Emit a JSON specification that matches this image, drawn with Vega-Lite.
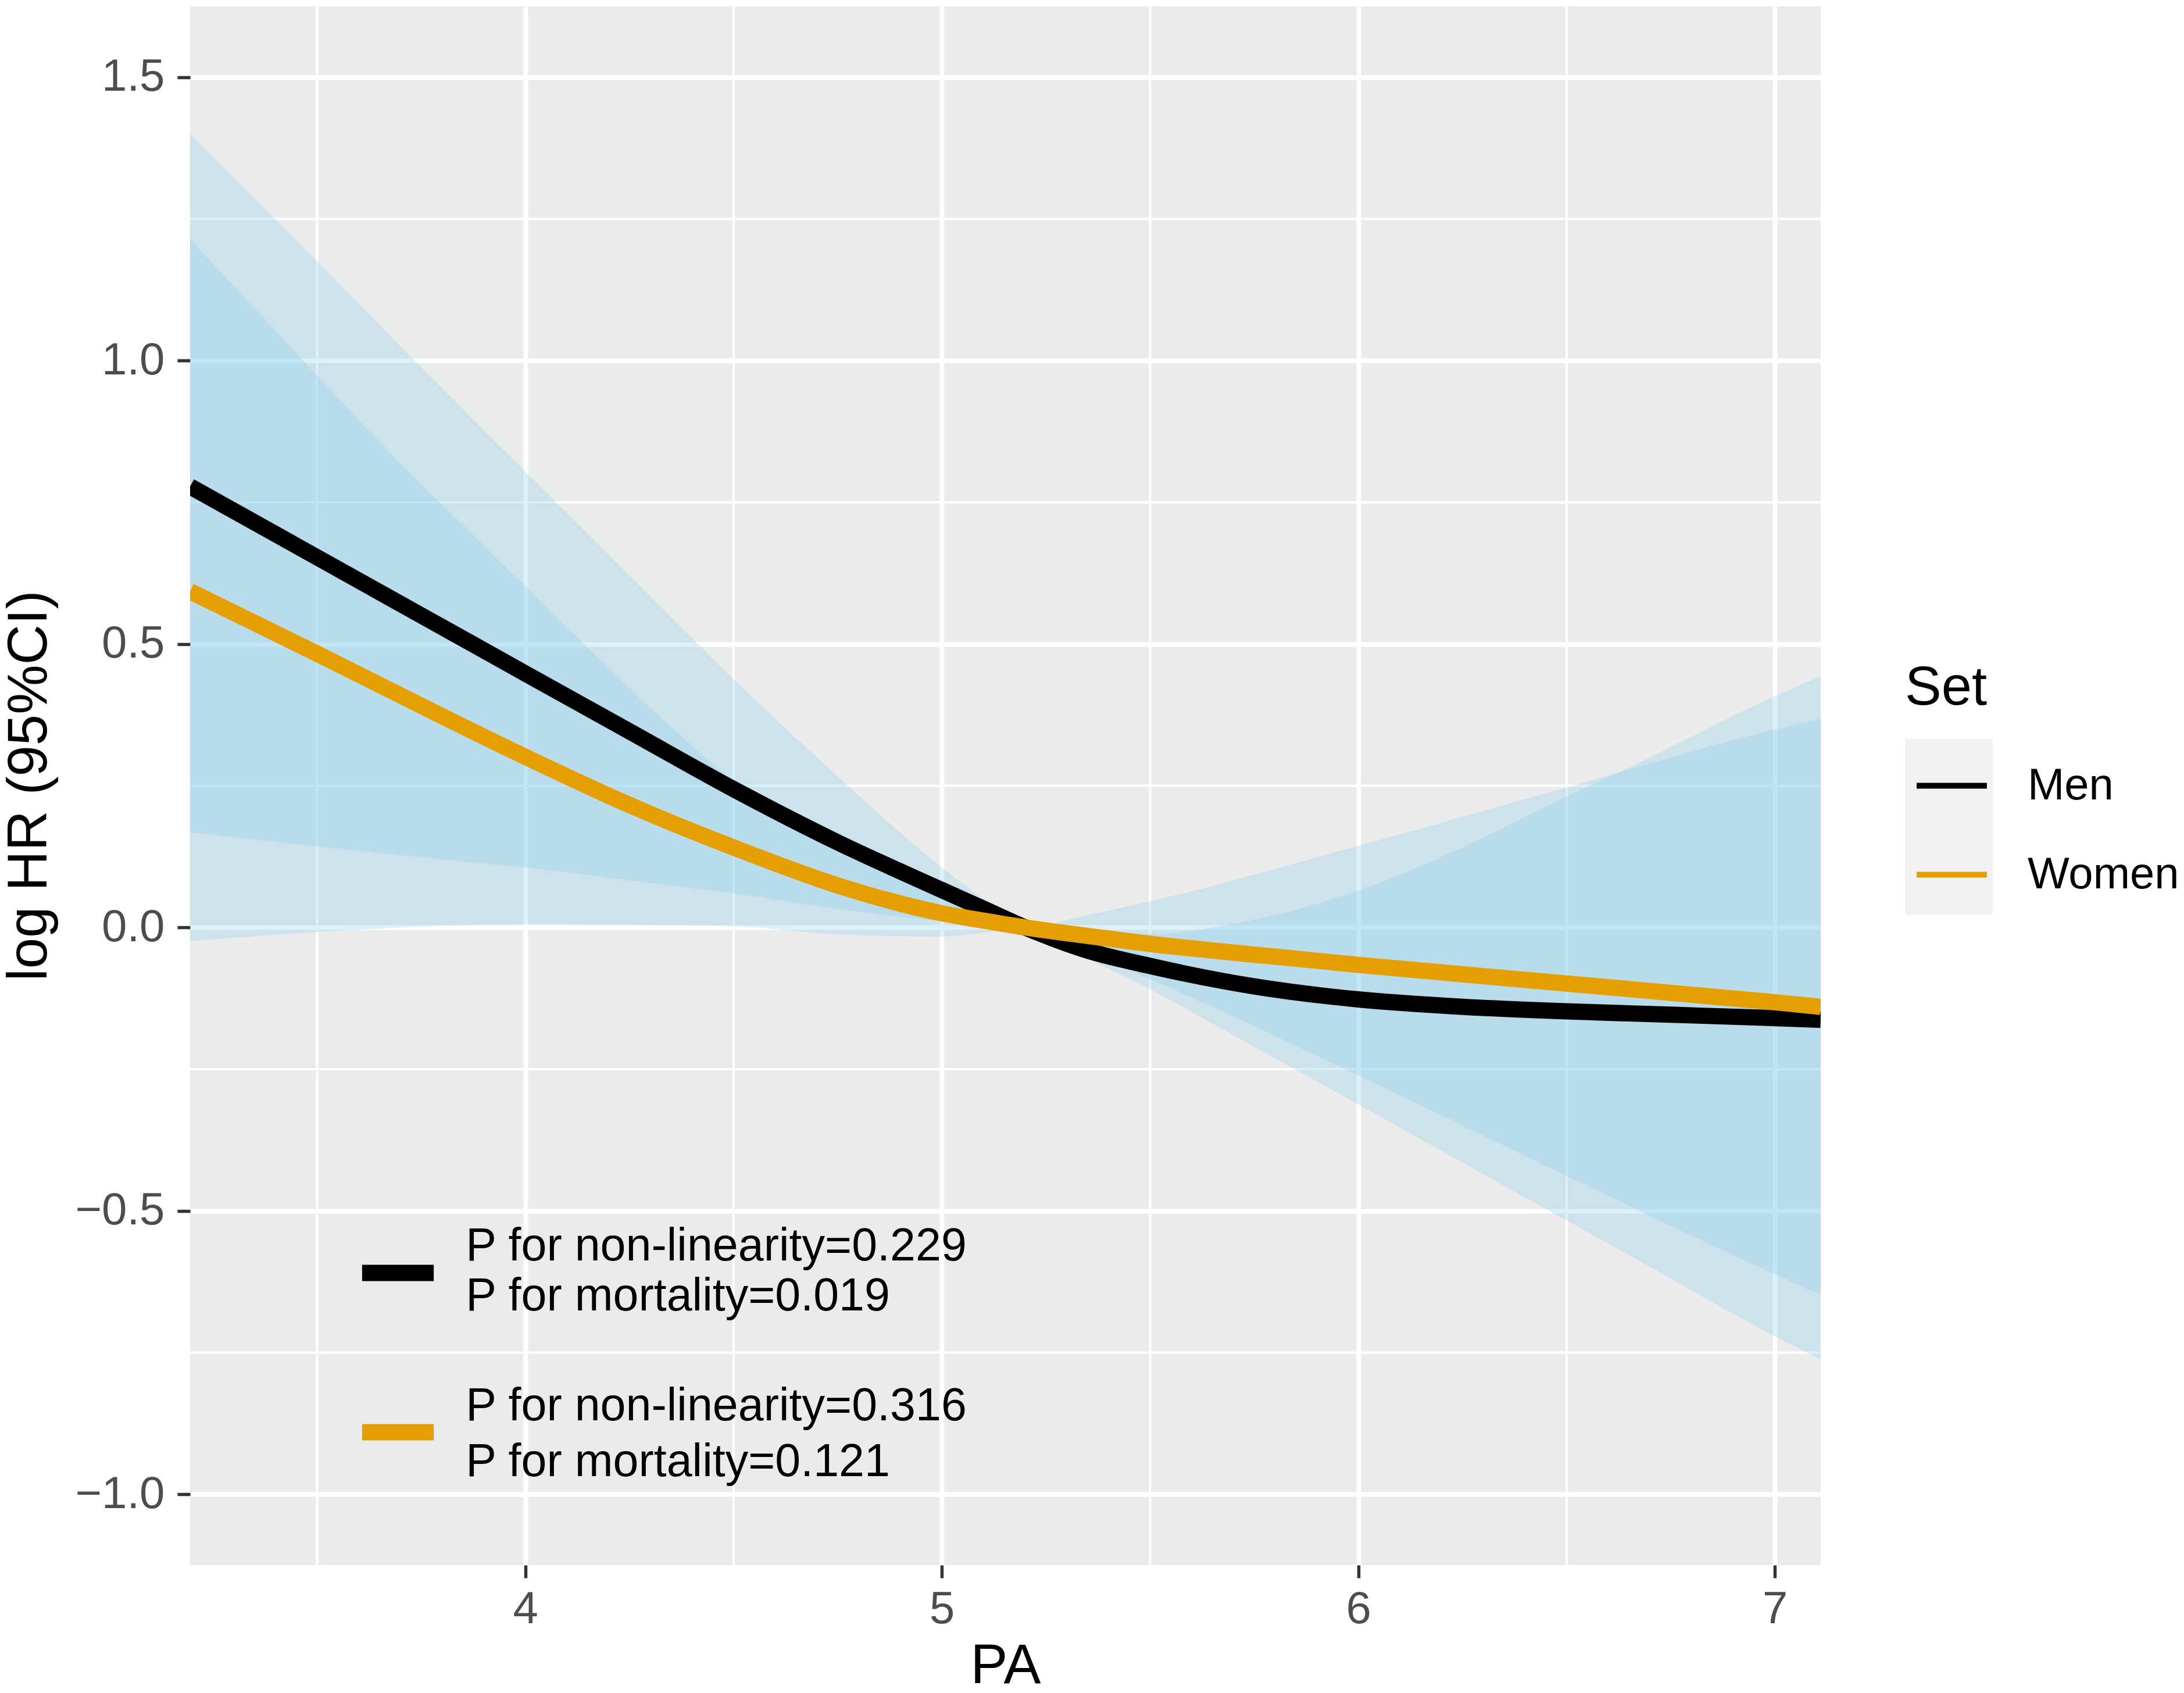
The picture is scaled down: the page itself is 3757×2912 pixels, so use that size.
{
  "$schema": "https://vega.github.io/schema/vega-lite/v6.json",
  "description": "log HR by PA for men and women, with 95% CI bands",
  "width": 2805,
  "height": 2681,
  "autosize": {"type": "none"},
  "padding": {"left": 327, "top": 11, "right": 625, "bottom": 220},
  "background": "white",
  "config": {
    "view": {"fill": "#EBEBEB", "stroke": null},
    "font": "Liberation Sans",
    "text": {"font": "Liberation Sans"}
  },
  "datasets": {
    "minor_x": [{"PA": 3.5}, {"PA": 4.5}, {"PA": 5.5}, {"PA": 6.5}],
    "minor_y": [{"logHR": -0.75}, {"logHR": -0.25}, {"logHR": 0.25}, {"logHR": 0.75}, {"logHR": 1.25}],
    "bands": [
      {"Set": "Men", "PA": 3.195, "lo": 0.168, "hi": 1.400},
      {"Set": "Men", "PA": 3.5, "lo": 0.143, "hi": 1.175},
      {"Set": "Men", "PA": 3.846, "lo": 0.117, "hi": 0.917},
      {"Set": "Men", "PA": 4.0, "lo": 0.106, "hi": 0.804},
      {"Set": "Men", "PA": 4.274, "lo": 0.081, "hi": 0.603},
      {"Set": "Men", "PA": 4.5, "lo": 0.060, "hi": 0.438},
      {"Set": "Men", "PA": 4.7, "lo": 0.038, "hi": 0.300},
      {"Set": "Men", "PA": 5.0, "lo": 0.011, "hi": 0.106},
      {"Set": "Men", "PA": 5.1, "lo": 0.004, "hi": 0.050},
      {"Set": "Men", "PA": 5.2, "lo": 0.0, "hi": 0.0},
      {"Set": "Men", "PA": 5.35, "lo": -0.055, "hi": -0.008},
      {"Set": "Men", "PA": 5.5, "lo": -0.109, "hi": -0.012},
      {"Set": "Men", "PA": 5.69, "lo": -0.186, "hi": 0.005},
      {"Set": "Men", "PA": 6.0, "lo": -0.312, "hi": 0.065},
      {"Set": "Men", "PA": 6.27, "lo": -0.423, "hi": 0.148},
      {"Set": "Men", "PA": 6.5, "lo": -0.517, "hi": 0.231},
      {"Set": "Men", "PA": 6.65, "lo": -0.578, "hi": 0.282},
      {"Set": "Men", "PA": 7.0, "lo": -0.721, "hi": 0.408},
      {"Set": "Men", "PA": 7.11, "lo": -0.762, "hi": 0.443},
      {"Set": "Women", "PA": 3.195, "lo": -0.024, "hi": 1.214},
      {"Set": "Women", "PA": 3.5, "lo": -0.008, "hi": 0.974},
      {"Set": "Women", "PA": 3.572, "lo": -0.005, "hi": 0.917},
      {"Set": "Women", "PA": 4.0, "lo": 0.006, "hi": 0.602},
      {"Set": "Women", "PA": 4.354, "lo": 0.004, "hi": 0.351},
      {"Set": "Women", "PA": 4.5, "lo": 0.002, "hi": 0.258},
      {"Set": "Women", "PA": 4.75, "lo": -0.012, "hi": 0.150},
      {"Set": "Women", "PA": 5.0, "lo": -0.016, "hi": 0.060},
      {"Set": "Women", "PA": 5.1, "lo": -0.009, "hi": 0.025},
      {"Set": "Women", "PA": 5.2, "lo": 0.0, "hi": 0.0},
      {"Set": "Women", "PA": 5.35, "lo": -0.045, "hi": 0.022},
      {"Set": "Women", "PA": 5.5, "lo": -0.091, "hi": 0.046},
      {"Set": "Women", "PA": 6.0, "lo": -0.261, "hi": 0.144},
      {"Set": "Women", "PA": 6.5, "lo": -0.438, "hi": 0.247},
      {"Set": "Women", "PA": 7.0, "lo": -0.612, "hi": 0.349},
      {"Set": "Women", "PA": 7.11, "lo": -0.648, "hi": 0.368}
    ],
    "curves": [
      {"Set": "Men", "PA": 3.195, "logHR": 0.778},
      {"Set": "Men", "PA": 3.5, "logHR": 0.653},
      {"Set": "Men", "PA": 3.8, "logHR": 0.530},
      {"Set": "Men", "PA": 4.0, "logHR": 0.448},
      {"Set": "Men", "PA": 4.25, "logHR": 0.346},
      {"Set": "Men", "PA": 4.5, "logHR": 0.244},
      {"Set": "Men", "PA": 4.75, "logHR": 0.150},
      {"Set": "Men", "PA": 5.0, "logHR": 0.066},
      {"Set": "Men", "PA": 5.1, "logHR": 0.033},
      {"Set": "Men", "PA": 5.2, "logHR": 0.0},
      {"Set": "Men", "PA": 5.35, "logHR": -0.041},
      {"Set": "Men", "PA": 5.5, "logHR": -0.068},
      {"Set": "Men", "PA": 5.75, "logHR": -0.104},
      {"Set": "Men", "PA": 6.0, "logHR": -0.127},
      {"Set": "Men", "PA": 6.25, "logHR": -0.140},
      {"Set": "Men", "PA": 6.5, "logHR": -0.148},
      {"Set": "Men", "PA": 6.75, "logHR": -0.154},
      {"Set": "Men", "PA": 7.0, "logHR": -0.160},
      {"Set": "Men", "PA": 7.11, "logHR": -0.163},
      {"Set": "Women", "PA": 3.195, "logHR": 0.593},
      {"Set": "Women", "PA": 3.5, "logHR": 0.483},
      {"Set": "Women", "PA": 3.75, "logHR": 0.391},
      {"Set": "Women", "PA": 4.0, "logHR": 0.301},
      {"Set": "Women", "PA": 4.25, "logHR": 0.216},
      {"Set": "Women", "PA": 4.5, "logHR": 0.141},
      {"Set": "Women", "PA": 4.75, "logHR": 0.074},
      {"Set": "Women", "PA": 5.0, "logHR": 0.025},
      {"Set": "Women", "PA": 5.1, "logHR": 0.012},
      {"Set": "Women", "PA": 5.2, "logHR": 0.0},
      {"Set": "Women", "PA": 5.35, "logHR": -0.015},
      {"Set": "Women", "PA": 5.5, "logHR": -0.029},
      {"Set": "Women", "PA": 5.75, "logHR": -0.048},
      {"Set": "Women", "PA": 6.0, "logHR": -0.066},
      {"Set": "Women", "PA": 6.5, "logHR": -0.099},
      {"Set": "Women", "PA": 7.0, "logHR": -0.132},
      {"Set": "Women", "PA": 7.11, "logHR": -0.140}
    ],
    "keys": [
      {"Set": "Men", "PA": 3.608, "PA2": 3.780, "logHR": -0.6095},
      {"Set": "Women", "PA": 3.608, "PA2": 3.780, "logHR": -0.8905}
    ],
    "notes": [
      {"PA": 3.857, "logHR": -0.563, "label": "P for non-linearity=0.229"},
      {"PA": 3.857, "logHR": -0.651, "label": "P for mortality=0.019"},
      {"PA": 3.857, "logHR": -0.845, "label": "P for non-linearity=0.316"},
      {"PA": 3.857, "logHR": -0.943, "label": "P for mortality=0.121"}
    ]
  },
  "layer": [
    {
      "data": {"name": "minor_x"},
      "mark": {"type": "rule", "color": "white", "strokeWidth": 4},
      "encoding": {
        "x": {
          "field": "PA", "type": "quantitative",
          "scale": {"domain": [3.195, 7.11], "nice": false, "zero": false},
          "axis": {
            "title": "PA", "values": [4, 5, 6, 7], "format": "d",
            "grid": true, "gridColor": "white", "gridWidth": 8,
            "domain": false, "tickColor": "#333333", "tickWidth": 5.5, "tickSize": 22,
            "labelFont": "Liberation Sans", "labelFontSize": 78, "labelColor": "#4D4D4D",
            "labelPadding": 15, "labelFlush": false,
            "titleFont": "Liberation Sans", "titleFontSize": 96, "titleFontWeight": "normal",
            "titleColor": "black", "titleBaseline": "top", "titleY": 126
          }
        }
      }
    },
    {
      "data": {"name": "minor_y"},
      "mark": {"type": "rule", "color": "white", "strokeWidth": 4},
      "encoding": {
        "y": {
          "field": "logHR", "type": "quantitative",
          "scale": {"domain": [-1.125, 1.625], "nice": false, "zero": false},
          "axis": {
            "title": "log HR (95%CI)", "values": [-1, -0.5, 0, 0.5, 1, 1.5], "format": ".1f",
            "grid": true, "gridColor": "white", "gridWidth": 8,
            "domain": false, "tickColor": "#333333", "tickWidth": 5.5, "tickSize": 22,
            "labelFont": "Liberation Sans", "labelFontSize": 78, "labelColor": "#4D4D4D",
            "labelPadding": 22, "labelFlush": false,
            "titleFont": "Liberation Sans", "titleFontSize": 96, "titleFontWeight": "normal",
            "titleColor": "black", "titleAngle": 270, "titleBaseline": "bottom",
            "titleAlign": "center", "titleX": -228, "titleY": 1340
          }
        }
      }
    },
    {
      "data": {"name": "bands"},
      "mark": {"type": "area", "color": "#87CEEB", "opacity": 0.3, "interpolate": "monotone", "clip": true},
      "encoding": {
        "x": {"field": "PA", "type": "quantitative", "scale": {"domain": [3.195, 7.11], "nice": false, "zero": false}, "title": "PA"},
        "y": {"field": "lo", "type": "quantitative", "scale": {"domain": [-1.125, 1.625], "nice": false, "zero": false}, "title": "log HR (95%CI)"},
        "y2": {"field": "hi"},
        "fill": {
          "field": "Set", "type": "nominal",
          "scale": {"domain": ["Women", "Men"], "range": ["#87CEEB", "#87CEEB"]},
          "legend": {
            "title": null, "orient": "none", "legendX": 2950, "legendY": 1260,
            "direction": "vertical", "padding": 0, "rowPadding": 0,
            "fillColor": "#F2F2F2",
            "symbolType": "square", "symbolSize": 22801, "symbolStrokeWidth": 0,
            "symbolOpacity": 0,
            "labelExpr": "''", "labelFontSize": 1, "labelOffset": 0, "zindex": 1
          }
        }
      }
    },
    {
      "data": {"name": "curves"},
      "mark": {"type": "line", "strokeWidth": 28, "interpolate": "monotone", "clip": true},
      "encoding": {
        "x": {"field": "PA", "type": "quantitative", "scale": {"domain": [3.195, 7.11], "nice": false, "zero": false}, "title": "PA"},
        "y": {"field": "logHR", "type": "quantitative", "scale": {"domain": [-1.125, 1.625], "nice": false, "zero": false}, "title": "log HR (95%CI)"},
        "stroke": {
          "field": "Set", "type": "nominal",
          "scale": {"domain": ["Men", "Women"], "range": ["#000000", "#E69F00"]},
          "legend": {
            "title": "Set", "orient": "none", "legendX": 2950, "legendY": 1127,
            "direction": "vertical", "padding": 0, "rowPadding": 34,
            "titleFont": "Liberation Sans", "titleFontSize": 94, "titleFontWeight": "normal",
            "titleColor": "black", "titlePadding": 39,
            "labelFont": "Liberation Sans", "labelFontSize": 76, "labelColor": "black",
            "labelOffset": 50, "labelLimit": 500,
            "symbolType": "M-0.8,0H0.8", "symbolSize": 22801, "symbolStrokeWidth": 10, "zindex": 2
          }
        }
      }
    },
    {
      "data": {"name": "keys"},
      "mark": {"type": "rule", "strokeWidth": 28, "strokeCap": "butt"},
      "encoding": {
        "x": {"field": "PA", "type": "quantitative", "scale": {"domain": [3.195, 7.11], "nice": false, "zero": false}, "title": "PA"},
        "x2": {"field": "PA2"},
        "y": {"field": "logHR", "type": "quantitative", "scale": {"domain": [-1.125, 1.625], "nice": false, "zero": false}, "title": "log HR (95%CI)"},
        "color": {
          "field": "Set", "type": "nominal",
          "scale": {"domain": ["Men", "Women"], "range": ["#000000", "#E69F00"]},
          "legend": null
        }
      }
    },
    {
      "data": {"name": "notes"},
      "mark": {"type": "text", "align": "left", "baseline": "middle", "fontSize": 79, "color": "black", "font": "Liberation Sans"},
      "encoding": {
        "x": {"field": "PA", "type": "quantitative", "scale": {"domain": [3.195, 7.11], "nice": false, "zero": false}, "title": "PA"},
        "y": {"field": "logHR", "type": "quantitative", "scale": {"domain": [-1.125, 1.625], "nice": false, "zero": false}, "title": "log HR (95%CI)"},
        "text": {"field": "label"}
      }
    }
  ]
}
